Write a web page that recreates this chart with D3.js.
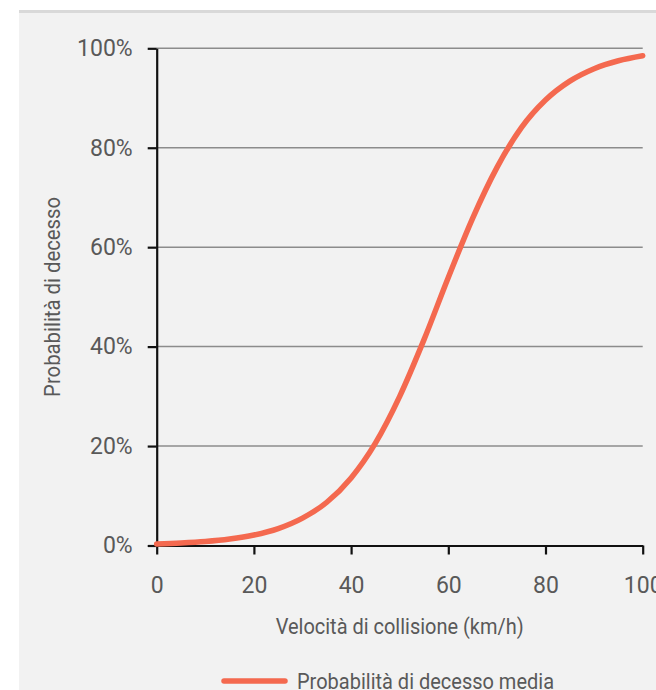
<!DOCTYPE html>
<html>
<head>
<meta charset="utf-8">
<script src="https://cdn.jsdelivr.net/npm/d3@7"></script>
<style>
  html, body { margin: 0; padding: 0; background: #ffffff; }
  svg { display: block; }
</style>
</head>
<body>
<script>
// ---- data ----
const speeds = [0, 5, 10, 15, 20, 25, 30, 35, 40, 45, 50, 55, 60, 65, 70, 75, 80, 85, 90, 95, 100];
const probability = [0.3, 0.5, 0.8, 1.3, 2.1, 3.4, 5.5, 8.7, 13.6, 20.6, 30, 41.4, 53.9, 65.8, 76, 84, 89.6, 93.4, 95.9, 97.5, 98.5];
const xTicks = [0, 20, 40, 60, 80, 100];
const yTicks = [0, 20, 40, 60, 80, 100];
const xTitle = "Velocità di collisione (km/h)";
const yTitle = "Probabilità di decesso";
const seriesName = "Probabilità di decesso media";

const W = 656, H = 690;
const svg = d3.select("body").append("svg").attr("width", W).attr("height", H);

// panel
svg.append("rect").attr("x", 19).attr("y", 10).attr("width", W - 19).attr("height", H - 10).attr("fill", "#f2f2f2");
svg.append("rect").attr("x", 19).attr("y", 10).attr("width", W - 19).attr("height", 3).attr("fill", "#d9d9d9");

const x = d3.scaleLinear().domain([0, 100]).range([156.7, 642.7]);
const y = d3.scaleLinear().domain([0, 100]).range([545.5, 48.3]);

const tickFont = "Roboto, 'Liberation Sans', sans-serif";
const titleFont = "Roboto, 'Liberation Sans', sans-serif";
const textColor = "#595959";

// gridlines
svg.append("g").selectAll("line").data(yTicks.filter(d => d > 0)).join("line")
  .attr("x1", x(0)).attr("x2", x(100))
  .attr("y1", d => y(d)).attr("y2", d => y(d))
  .attr("stroke", "#8c8c8c").attr("stroke-width", 1.5);

// y axis
const yAxis = svg.append("g").attr("transform", `translate(${x(0)},0)`)
  .call(d3.axisLeft(y).tickValues(yTicks).tickFormat(d => d + "%").tickSize(9).tickPadding(15).tickSizeOuter(0));
yAxis.select(".domain").attr("stroke", "#111").attr("stroke-width", 2.2);
yAxis.selectAll(".tick line").attr("stroke", "#111").attr("stroke-width", 2.2);
yAxis.selectAll("text").attr("font-family", tickFont).attr("font-size", 23).attr("fill", textColor);

// x axis
const xAxis = svg.append("g").attr("transform", `translate(0,${y(0)})`)
  .call(d3.axisBottom(x).tickValues(xTicks).tickFormat(d3.format("d")).tickSize(9).tickPadding(22).tickSizeOuter(0));
xAxis.select(".domain").attr("stroke", "#111").attr("stroke-width", 2.2);
xAxis.selectAll(".tick line").attr("stroke", "#111").attr("stroke-width", 2.2);
xAxis.selectAll("text").attr("font-family", tickFont).attr("font-size", 23).attr("fill", textColor);

// curve
const line = d3.line().x((d, i) => x(speeds[i])).y(d => y(d)).curve(d3.curveMonotoneX);
svg.append("path").datum(probability).attr("d", line)
  .attr("fill", "none").attr("stroke", "#f4694f").attr("stroke-width", 5.5)
  .attr("stroke-linecap", "round").attr("stroke-linejoin", "round");

// x title (condensed face)
svg.append("text").attr("x", (x(0) + x(100)) / 2).attr("y", 633.5)
  .attr("text-anchor", "middle").attr("font-family", titleFont).attr("font-size", 22)
  .attr("textLength", 248).attr("lengthAdjust", "spacingAndGlyphs")
  .attr("fill", textColor).text(xTitle);

// y title
svg.append("text").attr("transform", `translate(60,${(y(0) + y(100)) / 2}) rotate(-90)`)
  .attr("text-anchor", "middle").attr("font-family", titleFont).attr("font-size", 22)
  .attr("textLength", 200).attr("lengthAdjust", "spacingAndGlyphs")
  .attr("fill", textColor).text(yTitle);

// legend
const lg = svg.append("g");
lg.append("line").attr("x1", 224).attr("x2", 285).attr("y1", 681).attr("y2", 681)
  .attr("stroke", "#f4694f").attr("stroke-width", 5.5).attr("stroke-linecap", "round");
lg.append("text").attr("x", 297).attr("y", 688.5).attr("font-family", titleFont).attr("font-size", 22)
  .attr("textLength", 257).attr("lengthAdjust", "spacingAndGlyphs")
  .attr("fill", textColor).text(seriesName);
</script>
</body>
</html>
